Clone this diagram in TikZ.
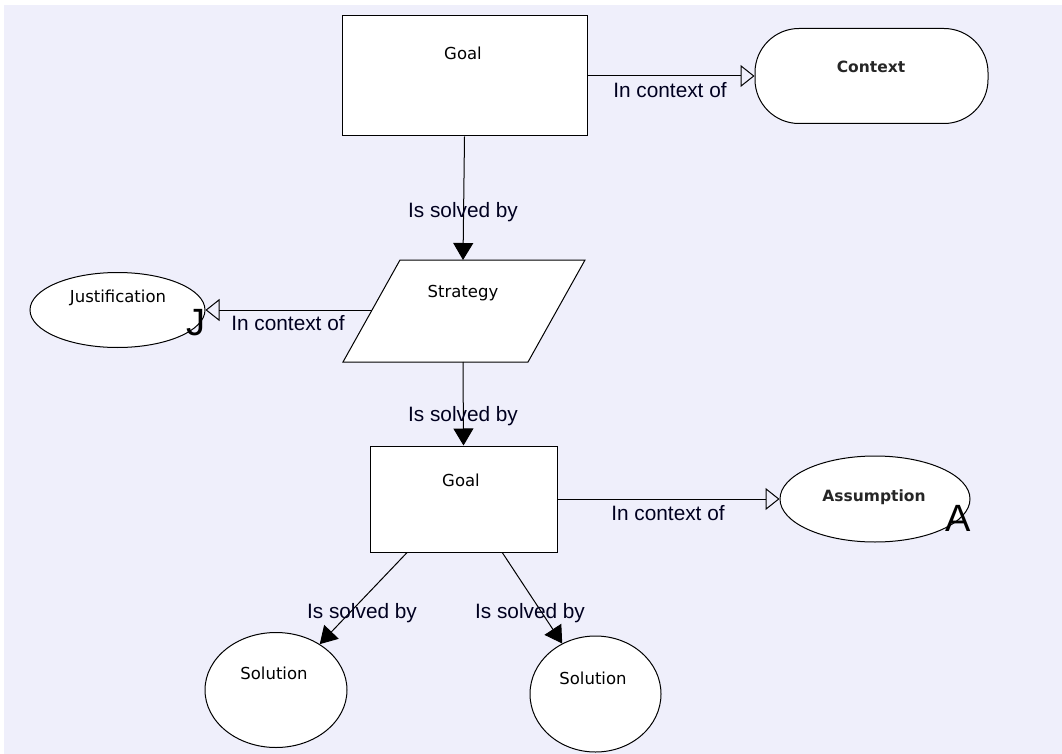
\documentclass[tikz,border=0pt]{standalone}
\usepackage{fontspec}
\setmainfont{Liberation Sans}
\newfontfamily\nodefont{DejaVu Sans}
\usetikzlibrary{arrows.meta,calc,shapes.geometric}
\definecolor{bgcol}{RGB}{239,239,251}
\tikzset{
  box/.style={draw, line width=1pt, fill=white, inner sep=0pt},
  oval/.style={draw, line width=1pt, fill=white, ellipse, inner sep=0pt},
  ntext/.style={font=\nodefont\fontsize{16.5}{19}\selectfont, inner sep=0pt},
  btext/.style={font=\nodefont\bfseries\fontsize{15.5}{19}\selectfont, inner sep=0pt, text=black!85},
  lbl/.style={font=\fontsize{20.8}{24}\selectfont, inner sep=0pt, text=black!88!blue},
  big/.style={font=\fontsize{38}{40}\selectfont, inner sep=0pt},
  solved/.style={line width=1pt, -{Triangle[length=17pt,width=20pt]}},
  ctxarrow/.style={line width=1pt, -{Triangle[open,length=14pt,width=22pt]}},
}
\begin{document}
\begin{tikzpicture}[x=1pt,y=-1pt]
\useasboundingbox (0,0) rectangle (1062,754);
\fill[white] (0,0) rectangle (1062,754);
\fill[bgcol] (4,5) rectangle (1062,754);

% Goal 1
\node[box, minimum width=245, minimum height=120] (g1) at (464.5,76) {};
\node[ntext] (g1t) at (463,53) {Goal};
% Context
\node[box, rounded corners=44, minimum width=233, minimum height=95] (ctx) at (871.5,76) {};
\node[btext] (ctxt) at (871,67) {Context};

% Strategy
\coordinate (s1) at (400,260);
\coordinate (s2) at (585,260);
\coordinate (s3) at (528,362);
\coordinate (s4) at (343,362);
\draw[line width=1pt, fill=white] (s1) -- (s2) -- (s3) -- (s4) -- cycle;
\coordinate (stT) at (463,260);
\coordinate (stB) at (463,362);
\coordinate (stL) at (372,310);
\node[ntext] (stt) at (463,293) {Strategy};

% Justification
\node[oval, minimum width=175, minimum height=75] (jus) at (117.5,310) {};
\node[ntext] (just) at (118,298) {Justification};
\node[big] (J) at (196,323) {J};

% Goal 2
\node[box, minimum width=187, minimum height=106] (g2) at (463.5,499) {};
\node[ntext] (g2t) at (461,480) {Goal};

% Assumption
\node[oval, minimum width=190, minimum height=86] (as) at (875,499) {};
\node[btext] (ast) at (874,497) {Assumption};
\node[big] (A) at (958,518) {A};

% Solutions
\node[oval, minimum width=142, minimum height=115] (so1) at (276,690) {};
\node[ntext] (so1t) at (274,673) {Solution};
\node[oval, minimum width=131, minimum height=116] (so2) at (595.5,694) {};
\node[ntext] (so2t) at (593,678) {Solution};

% connectors
\draw[ctxarrow] (g1.east) -- (ctx.west);
\node[lbl] at (670,90) {In context of};

\draw[solved] (g1.south) -- (stT);
\node[lbl] at (463,212) {Is solved by};

\draw[ctxarrow] (stL) -- (jus.east);
\node[lbl] at (288,323) {In context of};

\draw[solved] (stB) -- (g2.north);
\node[lbl] at (463,416) {Is solved by};

\draw[ctxarrow] (g2.east) -- (as.west);
\node[lbl] at (668,513) {In context of};

\coordinate (g2a) at ($(g2.south west)!0.2!(g2.south east)$);
\coordinate (g2b) at ($(g2.south west)!0.706!(g2.south east)$);
\draw[solved] (g2a) -- (so1);
\draw[solved] (g2b) -- (so2);
\node[lbl] at (362,613) {Is solved by};
\node[lbl] at (530,613) {Is solved by};
\end{tikzpicture}
\end{document}
